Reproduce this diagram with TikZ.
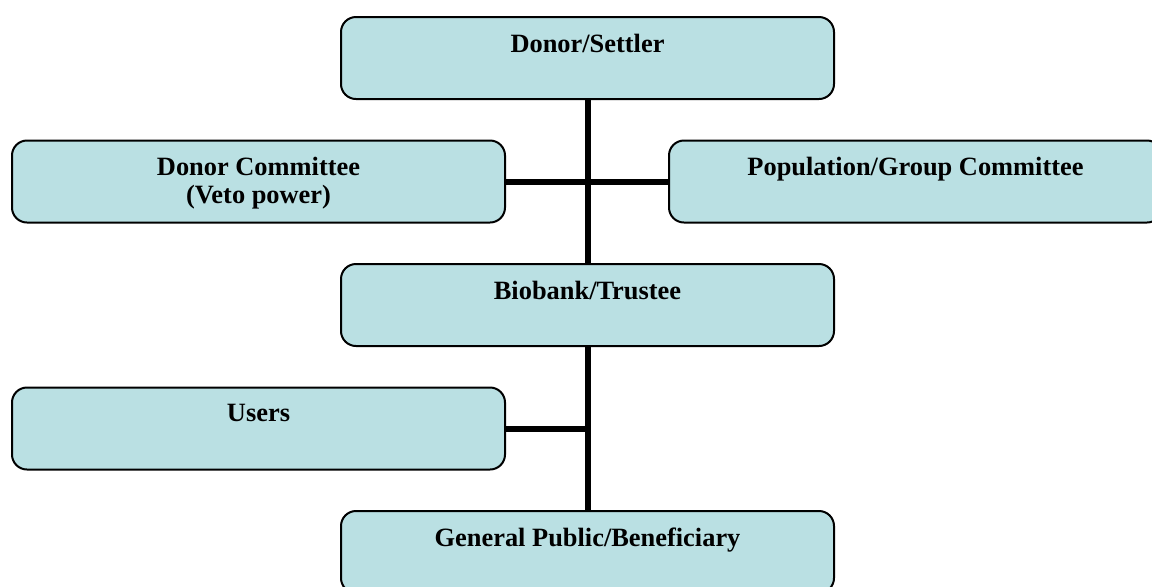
\documentclass[tikz,border=0pt]{standalone}
\usepackage{fontspec}
\setmainfont{Liberation Serif}
\usepackage{xcolor}
\usetikzlibrary{positioning}
\definecolor{boxfill}{RGB}{186,224,227}
\tikzset{
  orgbox/.style={draw=black, fill=boxfill, line width=1pt, rounded corners=7.5pt,
    minimum width=246.5pt, minimum height=41pt, inner sep=0pt},
  boxtext/.style={anchor=north, yshift=-5.5pt, align=center,
    font=\fontsize{13.2}{14}\selectfont\bfseries},
  link/.style={black, line width=3pt}
}
\begin{document}
\begin{tikzpicture}[x=0.5pt, y=-0.5pt]
	    		\clip (0,0) rectangle (1152,586);
	    		\node[orgbox, label={[boxtext]north:Donor/Settler}] (settler) at (587.5, 58) {};
	    		\node[orgbox, label={[boxtext]north:Donor Committee\\(Veto power)}] (donorcom) at (258.5, 181.5) {};
	    		\node[orgbox, label={[boxtext]north:Population/Group Committee}] (popcom) at (915.5, 181.5) {};
	    		\node[orgbox, label={[boxtext]north:Biobank/Trustee}] (trustee) at (587.5, 305) {};
	    		\node[orgbox, label={[boxtext]north:Users}] (users) at (258.5, 428.5) {};
	    		\node[orgbox, label={[boxtext]north:General Public/Beneficiary}] (public) at (587.5, 552) {};
	    		\coordinate (userjoin) at (users.east -| trustee.south);
	    		\draw[link] (settler) -- (trustee);
	    		\draw[link] (trustee) -- (public);
	    		\draw[link] (donorcom) -- (popcom);
	    		\draw[link] (users) -- (userjoin);
	    	\end{tikzpicture}
\end{document}
